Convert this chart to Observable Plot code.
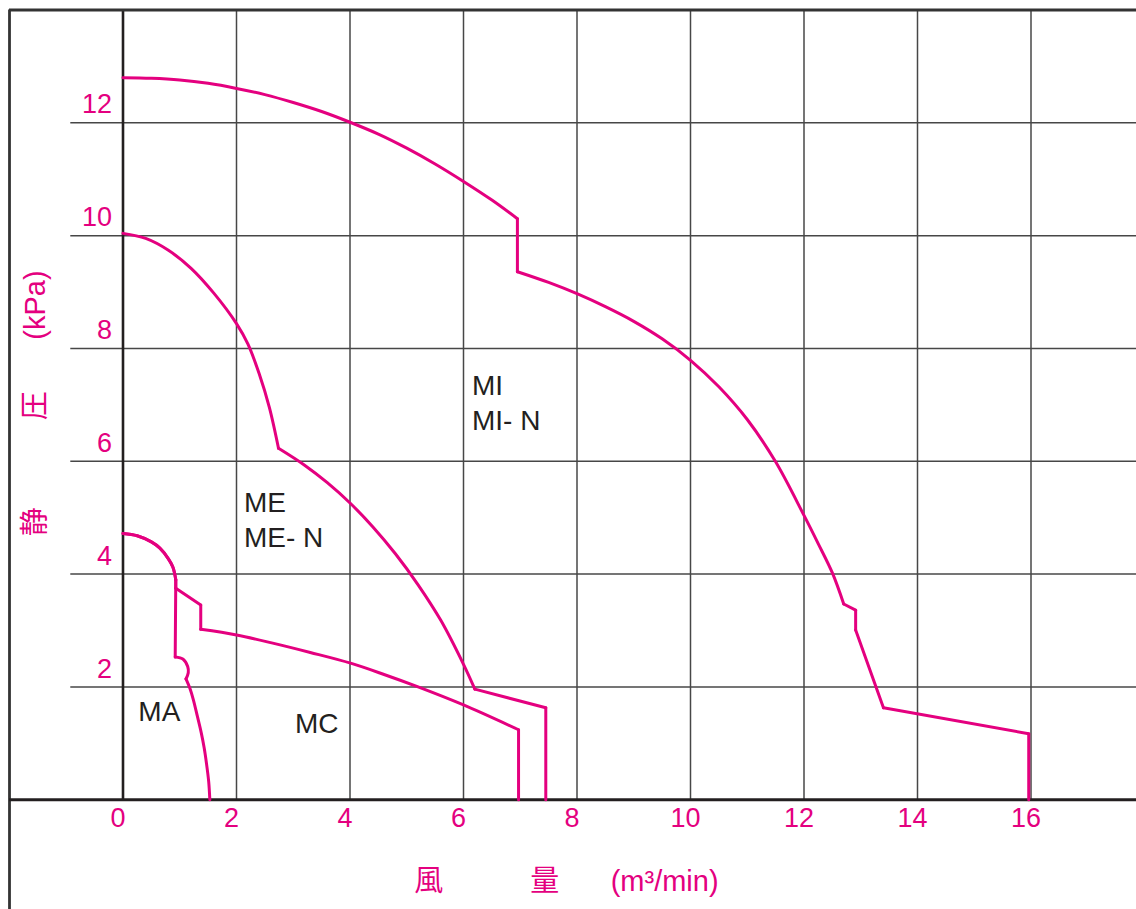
<!DOCTYPE html>
<html>
<head>
<meta charset="utf-8">
<script src="https://cdn.jsdelivr.net/npm/d3@7"></script>
<script src="https://cdn.jsdelivr.net/npm/@observablehq/plot@0.6"></script>
<style>
  html, body { margin: 0; padding: 0; background: #ffffff; }
  #chart svg { display: block; overflow: hidden; }
</style>
</head>
<body>
<div id="chart"></div>
<script>
// ---- data ----
const xTicks = [0, 2, 4, 6, 8, 10, 12, 14, 16];
const yTicks = [2, 4, 6, 8, 10, 12];
const gridX = [2, 4, 6, 8, 10, 12, 14, 16];

const xTitle = "風\u3000\u3000\u3000量\u3000 \u2002(m³/min)";
const yTitle = "静\u3000\u3000\u3000圧\u3000 \u2002(kPa)";

// MI / MI-N curve
const miX = [0, 0.5, 1, 1.5, 2, 2.5, 3, 3.5, 4, 4.5, 5, 5.5, 6, 6.5, 6.95,
             6.95, 7.5, 8.0, 8.5, 9.0, 9.5, 10.0, 10.5, 11.0, 11.5, 12.0, 12.25, 12.5, 12.7,
             12.91, 12.91, 13.4, 15.96, 15.96];
const miY = [12.8, 12.79, 12.76, 12.7, 12.61, 12.5, 12.36, 12.2, 12.01, 11.8, 11.55, 11.27, 10.96, 10.63, 10.3,
             9.36, 9.17, 8.97, 8.74, 8.48, 8.17, 7.79, 7.32, 6.74, 5.99, 5.04, 4.54, 4.02, 3.47,
             3.36, 3.01, 1.63, 1.17, 0];
const miCorners = [14, 15, 28, 29, 30, 31, 32];

// ME / ME-N curve
const meX = [0, 0.4, 0.8, 1.2, 1.6, 2.0, 2.2, 2.4, 2.58, 2.74,
             3.2, 3.6, 4.0, 4.4, 4.8, 5.2, 5.6, 6.0, 6.2, 7.45, 7.45];
const meY = [10.04, 9.95, 9.74, 9.42, 8.98, 8.44, 8.08, 7.55, 6.95, 6.23,
             5.93, 5.62, 5.26, 4.84, 4.36, 3.81, 3.18, 2.4, 1.96, 1.63, 0];
const meCorners = [9, 18, 19];

// MC curve
const mcX = [0, 0.25, 0.5, 0.65, 0.8, 0.88, 0.93, 0.93, 1.37, 1.37, 2, 2.62, 3.3, 4.01, 4.6, 5.2, 6.0, 6.97, 6.97];
const mcY = [4.72, 4.68, 4.57, 4.46, 4.27, 4.12, 3.9, 3.75, 3.45, 3.02, 2.92, 2.78, 2.61, 2.42, 2.22, 2.0, 1.68, 1.24, 0];
const mcCorners = [6, 7, 8, 9, 17];

// MA curve
const maX = [0, 0.25, 0.5, 0.65, 0.8, 0.88, 0.93, 0.92, 1.06, 1.14, 1.15, 1.11, 1.18, 1.24, 1.31, 1.38, 1.43, 1.47, 1.51, 1.53];
const maY = [4.72, 4.68, 4.57, 4.46, 4.27, 4.12, 3.9, 2.53, 2.49, 2.36, 2.25, 2.14, 1.97, 1.77, 1.48, 1.18, 0.92, 0.65, 0.32, 0];
const maCorners = [6, 7, 11];

const labelText = ["MA", "MC", "ME", "ME- N", "MI", "MI- N"];
const labelX = [0.27, 3.03, 2.13, 2.13, 6.15, 6.15];
const labelY = [1.56, 1.35, 5.26, 4.64, 7.33, 6.71];

// ---- build tables: split each series into smooth pieces at its corners ----
const series = [
  {name: "MI", xs: miX, ys: miY, corners: miCorners},
  {name: "ME", xs: meX, ys: meY, corners: meCorners},
  {name: "MC", xs: mcX, ys: mcY, corners: mcCorners},
  {name: "MA", xs: maX, ys: maY, corners: maCorners}
];
const lineData = [];
for (const s of series) {
  let seg = 0;
  for (let i = 0; i < s.xs.length; i++) {
    lineData.push({piece: s.name + "-" + seg, x: s.xs[i], y: s.ys[i]});
    if (s.corners.includes(i) && i < s.xs.length - 1) {
      seg++;
      lineData.push({piece: s.name + "-" + seg, x: s.xs[i], y: s.ys[i]});
    }
  }
}
const labels = labelText.map((t, i) => ({t, x: labelX[i], y: labelY[i]}));

const pink = "#e4007f";
const ink = "#231f20";
const gridCol = "#474747";
const font = "'Liberation Sans', Arial, 'Noto Sans CJK JP', sans-serif";

const chart = Plot.plot({
  width: 1136,
  height: 909,
  x: {domain: [-2, 18], range: [9, 1144], axis: null},
  y: {domain: [-2, 14], range: [912, 9.5], axis: null},
  style: {fontFamily: font, background: "#ffffff"},
  marks: [
    // grid
    Plot.ruleY(yTicks, {y: d => d, x1: -0.92, x2: 18, stroke: gridCol, strokeWidth: 1.5}),
    Plot.ruleX(gridX, {x: d => d, y1: 0, y2: 14, stroke: gridCol, strokeWidth: 1.5}),
    // frame / main axes
    Plot.ruleX([0], {x: d => d, y1: 0, y2: 14, stroke: ink, strokeWidth: 2.6}),
    Plot.ruleX([-2], {x: d => d, y1: -2, y2: 14, stroke: "#333333", strokeWidth: 2.8}),
    Plot.ruleY([14], {y: d => d, x1: -2, x2: 18, stroke: "#333333", strokeWidth: 2.8}),
    Plot.ruleY([0], {y: d => d, x1: -2, x2: 18, stroke: ink, strokeWidth: 3}),
    // curves
    Plot.line(lineData, {x: "x", y: "y", z: "piece", curve: "catmull-rom", stroke: pink, strokeWidth: 3, strokeLinejoin: "round", strokeLinecap: "round"}),
    // tick labels
    Plot.text(yTicks, {x: 0, y: d => d, text: d => String(d), textAnchor: "end", dx: -11, dy: -18, fill: pink, fontSize: 27}),
    Plot.text(xTicks, {x: d => d, y: 0, text: d => String(d), dx: -5, dy: 19, fill: pink, fontSize: 27}),
    // series labels
    Plot.text(labels, {x: "x", y: "y", text: "t", textAnchor: "start", fill: ink, fontSize: 28}),
    // axis titles
    Plot.text([xTitle], {x: 5.13, y: -1.45, text: d => d, textAnchor: "start", fill: pink, fontSize: 29}),
    Plot.text([yTitle], {x: -1.54, y: 4.67, text: d => d, textAnchor: "start", rotate: -90, fill: pink, fontSize: 29})
  ]
});
document.getElementById("chart").appendChild(chart);
</script>
</body>
</html>
